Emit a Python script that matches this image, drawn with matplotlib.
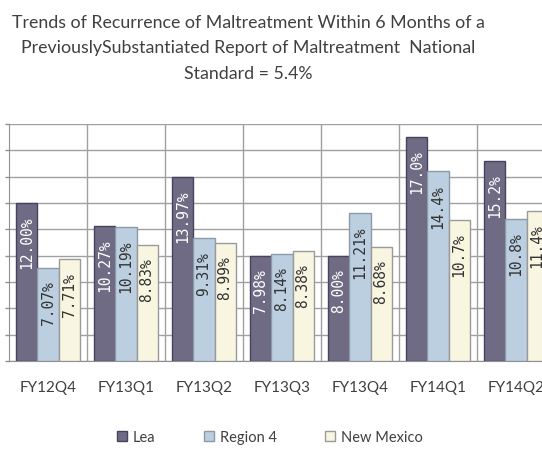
import numpy as np
import matplotlib
matplotlib.use("Agg")
import matplotlib.pyplot as plt
from matplotlib.patches import Patch

# Dati
quarters = ["FY12Q4", "FY13Q1", "FY13Q2", "FY13Q3", "FY13Q4", "FY14Q1", "FY14Q2"]
lea = [12.00, 10.27, 13.97, 7.98, 8.00, 17.0, 15.2]
region4 = [7.07, 10.19, 9.31, 8.14, 11.21, 14.4, 10.8]
new_mexico = [7.71, 8.83, 8.99, 8.38, 8.68, 10.7, 11.4]
lea_labels = ["12.00%", "10.27%", "13.97%", "7.98%", "8.00%", "17.0%", "15.2%"]
region4_labels = ["7.07%", "10.19%", "9.31%", "8.14%", "11.21%", "14.4%", "10.8%"]
nm_labels = ["7.71%", "8.83%", "8.99%", "8.38%", "8.68%", "10.7%", "11.4%"]

series = [
    ("Lea", lea, lea_labels, "#706b85", "#48425e", "white"),
    ("Region 4", region4, region4_labels, "#bccfe0", "#8c9aa8", "#333333"),
    ("New Mexico", new_mexico, nm_labels, "#f8f5e1", "#9a9a9a", "#333333"),
]

W, H = 542, 452
fig = plt.figure(figsize=(W / 100, H / 100), dpi=100)
ax = fig.add_axes([9 / W, 1 - 362 / H, 1 - 9 / W, (362 - 125) / H])

x = np.arange(len(quarters))
bw = 0.27
for k, (name, vals, labs, fc, ec, tc) in enumerate(series):
    pos = x + (k - 1) * bw
    ax.bar(pos, vals, width=bw, color=fc, edgecolor=ec, linewidth=1, zorder=3)
    for p, v, t in zip(pos, vals, labs):
        ax.annotate(t, (p, v), xytext=(0, -9), textcoords="offset points",
                    rotation=90, ha="center", va="top", fontsize=10.5,
                    family="DejaVu Sans Mono", color=tc, zorder=4,
                    annotation_clip=False)

ax.set_yticks(np.arange(0, 19, 2))
ax.set_yticklabels([])
ax.tick_params(axis="y", length=3, color="#909090", width=1)
ax.set_xticks(x)
ax.set_xticklabels(quarters, fontsize=11, family="Lato", color="#404040")
ax.tick_params(axis="x", length=0, pad=14)
ax.set_xticks(np.arange(len(quarters)) + 0.5, minor=True)
ax.tick_params(axis="x", which="minor", length=0)
# i limiti dopo i tick, altrimenti set_xticks li allarga
ax.set_xlim(-0.5, (W - 9) / 78 - 0.5)
ax.set_ylim(0, 18)
ax.grid(True, axis="y", color="#a0a0a0", linewidth=1, zorder=0)
ax.grid(True, axis="x", which="minor", color="#a0a0a0", linewidth=1, zorder=0)
for s in ["top", "right"]:
    ax.spines[s].set_visible(False)
ax.spines["left"].set_color("#909090")
ax.spines["bottom"].set_color("#909090")

fig.text(248 / W, 1 - 15 / H,
         "Trends of Recurrence of Maltreatment Within 6 Months of a\n"
         "PreviouslySubstantiated Report of Maltreatment  National\n"
         "Standard = 5.4%",
         ha="center", va="top", fontsize=12.8, family="Lato",
         color="#404040", linespacing=1.72)

handles = [Patch(facecolor=s[3], edgecolor=s[4], label=s[0]) for s in series]
fig.legend(handles=handles, loc="center", bbox_to_anchor=(270 / W, 1 - 438 / H),
           ncol=3, frameon=False, handlelength=0.7, handleheight=0.7,
           handletextpad=0.4, columnspacing=3.3,
           prop={"family": "Lato", "size": 10.5}, labelcolor="#404040")

fig.savefig("out.png", dpi=100)
